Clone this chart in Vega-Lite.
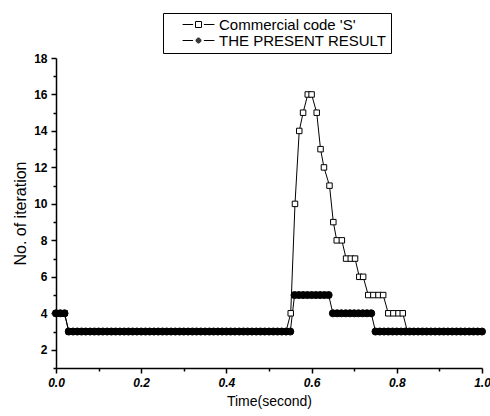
{
  "$schema": "https://vega.github.io/schema/vega-lite/v6.json",
  "width": 426,
  "height": 310,
  "autosize": {"type": "none"},
  "padding": {"left": 56, "top": 58, "right": 8, "bottom": 48},
  "background": "white",
  "config": {
    "view": {"stroke": null},
    "font": "Liberation Sans",
    "axis": {"domainColor": "black", "tickColor": "black", "labelColor": "black", "titleColor": "black", "domainWidth": 1.5, "tickWidth": 1.5, "grid": false, "titleFont": "Liberation Sans", "labelFont": "Liberation Sans", "titleFontWeight": "normal"}
  },
  "data": {"values": [
    {"s":"S","t":0,"v":4},{"s":"S","t":0.01,"v":4},{"s":"S","t":0.02,"v":4},
    {"s":"S","t":0.03,"v":3},{"s":"S","t":0.04,"v":3},{"s":"S","t":0.05,"v":3},{"s":"S","t":0.06,"v":3},{"s":"S","t":0.07,"v":3},{"s":"S","t":0.08,"v":3},{"s":"S","t":0.09,"v":3},{"s":"S","t":0.1,"v":3},
    {"s":"S","t":0.11,"v":3},{"s":"S","t":0.12,"v":3},{"s":"S","t":0.13,"v":3},{"s":"S","t":0.14,"v":3},{"s":"S","t":0.15,"v":3},{"s":"S","t":0.16,"v":3},{"s":"S","t":0.17,"v":3},{"s":"S","t":0.18,"v":3},{"s":"S","t":0.19,"v":3},{"s":"S","t":0.2,"v":3},
    {"s":"S","t":0.21,"v":3},{"s":"S","t":0.22,"v":3},{"s":"S","t":0.23,"v":3},{"s":"S","t":0.24,"v":3},{"s":"S","t":0.25,"v":3},{"s":"S","t":0.26,"v":3},{"s":"S","t":0.27,"v":3},{"s":"S","t":0.28,"v":3},{"s":"S","t":0.29,"v":3},{"s":"S","t":0.3,"v":3},
    {"s":"S","t":0.31,"v":3},{"s":"S","t":0.32,"v":3},{"s":"S","t":0.33,"v":3},{"s":"S","t":0.34,"v":3},{"s":"S","t":0.35,"v":3},{"s":"S","t":0.36,"v":3},{"s":"S","t":0.37,"v":3},{"s":"S","t":0.38,"v":3},{"s":"S","t":0.39,"v":3},{"s":"S","t":0.4,"v":3},
    {"s":"S","t":0.41,"v":3},{"s":"S","t":0.42,"v":3},{"s":"S","t":0.43,"v":3},{"s":"S","t":0.44,"v":3},{"s":"S","t":0.45,"v":3},{"s":"S","t":0.46,"v":3},{"s":"S","t":0.47,"v":3},{"s":"S","t":0.48,"v":3},{"s":"S","t":0.49,"v":3},{"s":"S","t":0.5,"v":3},
    {"s":"S","t":0.51,"v":3},{"s":"S","t":0.52,"v":3},{"s":"S","t":0.53,"v":3},{"s":"S","t":0.54,"v":3},
    {"s":"S","t":0.551,"v":4},{"s":"S","t":0.561,"v":10},{"s":"S","t":0.571,"v":14},{"s":"S","t":0.58,"v":15},{"s":"S","t":0.591,"v":16},{"s":"S","t":0.6,"v":16},{"s":"S","t":0.612,"v":15},{"s":"S","t":0.621,"v":13},{"s":"S","t":0.629,"v":12},{"s":"S","t":0.642,"v":11},
    {"s":"S","t":0.651,"v":9},{"s":"S","t":0.659,"v":8},{"s":"S","t":0.671,"v":8},{"s":"S","t":0.681,"v":7},{"s":"S","t":0.692,"v":7},{"s":"S","t":0.702,"v":7},{"s":"S","t":0.712,"v":6},{"s":"S","t":0.721,"v":6},{"s":"S","t":0.733,"v":5},{"s":"S","t":0.745,"v":5},
    {"s":"S","t":0.757,"v":5},{"s":"S","t":0.768,"v":5},{"s":"S","t":0.78,"v":4},{"s":"S","t":0.792,"v":4},{"s":"S","t":0.804,"v":4},{"s":"S","t":0.814,"v":4},
    {"s":"S","t":0.825,"v":3},{"s":"S","t":0.835,"v":3},{"s":"S","t":0.845,"v":3},{"s":"S","t":0.855,"v":3},{"s":"S","t":0.865,"v":3},{"s":"S","t":0.875,"v":3},{"s":"S","t":0.885,"v":3},{"s":"S","t":0.895,"v":3},{"s":"S","t":0.905,"v":3},
    {"s":"S","t":0.915,"v":3},{"s":"S","t":0.925,"v":3},{"s":"S","t":0.935,"v":3},{"s":"S","t":0.945,"v":3},{"s":"S","t":0.955,"v":3},{"s":"S","t":0.965,"v":3},{"s":"S","t":0.975,"v":3},{"s":"S","t":0.985,"v":3},{"s":"S","t":0.995,"v":3},
    {"s":"P","t":0,"v":4},{"s":"P","t":0.01,"v":4},{"s":"P","t":0.02,"v":4},
    {"s":"P","t":0.03,"v":3},{"s":"P","t":0.04,"v":3},{"s":"P","t":0.05,"v":3},{"s":"P","t":0.06,"v":3},{"s":"P","t":0.07,"v":3},{"s":"P","t":0.08,"v":3},{"s":"P","t":0.09,"v":3},{"s":"P","t":0.1,"v":3},
    {"s":"P","t":0.11,"v":3},{"s":"P","t":0.12,"v":3},{"s":"P","t":0.13,"v":3},{"s":"P","t":0.14,"v":3},{"s":"P","t":0.15,"v":3},{"s":"P","t":0.16,"v":3},{"s":"P","t":0.17,"v":3},{"s":"P","t":0.18,"v":3},{"s":"P","t":0.19,"v":3},{"s":"P","t":0.2,"v":3},
    {"s":"P","t":0.21,"v":3},{"s":"P","t":0.22,"v":3},{"s":"P","t":0.23,"v":3},{"s":"P","t":0.24,"v":3},{"s":"P","t":0.25,"v":3},{"s":"P","t":0.26,"v":3},{"s":"P","t":0.27,"v":3},{"s":"P","t":0.28,"v":3},{"s":"P","t":0.29,"v":3},{"s":"P","t":0.3,"v":3},
    {"s":"P","t":0.31,"v":3},{"s":"P","t":0.32,"v":3},{"s":"P","t":0.33,"v":3},{"s":"P","t":0.34,"v":3},{"s":"P","t":0.35,"v":3},{"s":"P","t":0.36,"v":3},{"s":"P","t":0.37,"v":3},{"s":"P","t":0.38,"v":3},{"s":"P","t":0.39,"v":3},{"s":"P","t":0.4,"v":3},
    {"s":"P","t":0.41,"v":3},{"s":"P","t":0.42,"v":3},{"s":"P","t":0.43,"v":3},{"s":"P","t":0.44,"v":3},{"s":"P","t":0.45,"v":3},{"s":"P","t":0.46,"v":3},{"s":"P","t":0.47,"v":3},{"s":"P","t":0.48,"v":3},{"s":"P","t":0.49,"v":3},{"s":"P","t":0.5,"v":3},
    {"s":"P","t":0.51,"v":3},{"s":"P","t":0.52,"v":3},{"s":"P","t":0.53,"v":3},{"s":"P","t":0.54,"v":3},{"s":"P","t":0.55,"v":3},
    {"s":"P","t":0.56,"v":5},{"s":"P","t":0.57,"v":5},{"s":"P","t":0.58,"v":5},{"s":"P","t":0.59,"v":5},{"s":"P","t":0.6,"v":5},{"s":"P","t":0.61,"v":5},{"s":"P","t":0.62,"v":5},{"s":"P","t":0.63,"v":5},{"s":"P","t":0.64,"v":5},
    {"s":"P","t":0.65,"v":4},{"s":"P","t":0.66,"v":4},{"s":"P","t":0.67,"v":4},{"s":"P","t":0.68,"v":4},{"s":"P","t":0.69,"v":4},{"s":"P","t":0.7,"v":4},{"s":"P","t":0.71,"v":4},{"s":"P","t":0.72,"v":4},{"s":"P","t":0.73,"v":4},{"s":"P","t":0.74,"v":4},
    {"s":"P","t":0.75,"v":3},{"s":"P","t":0.76,"v":3},{"s":"P","t":0.77,"v":3},{"s":"P","t":0.78,"v":3},{"s":"P","t":0.79,"v":3},{"s":"P","t":0.8,"v":3},{"s":"P","t":0.81,"v":3},{"s":"P","t":0.82,"v":3},{"s":"P","t":0.83,"v":3},{"s":"P","t":0.84,"v":3},
    {"s":"P","t":0.85,"v":3},{"s":"P","t":0.86,"v":3},{"s":"P","t":0.87,"v":3},{"s":"P","t":0.88,"v":3},{"s":"P","t":0.89,"v":3},{"s":"P","t":0.9,"v":3},{"s":"P","t":0.91,"v":3},{"s":"P","t":0.92,"v":3},{"s":"P","t":0.93,"v":3},{"s":"P","t":0.94,"v":3},
    {"s":"P","t":0.95,"v":3},{"s":"P","t":0.96,"v":3},{"s":"P","t":0.97,"v":3},{"s":"P","t":0.98,"v":3},{"s":"P","t":0.99,"v":3},{"s":"P","t":1.0,"v":3}
  ]},
  "encoding": {
    "x": {"field": "t", "type": "quantitative", "scale": {"domain": [0, 1], "nice": false, "zero": false},
      "axis": {"title": "Time(second)", "values": [0,0.1,0.2,0.3,0.4,0.5,0.6,0.7,0.8,0.9,1.0],
        "labelExpr": "round(datum.value*10) % 2 == 1 ? '' : format(datum.value, '.1f')",
        "labelFontSize": 12, "labelFontWeight": "bold", "labelFontStyle": "italic", "labelPadding": 4,
        "tickSize": {"condition": {"test": "round(datum.value*10) % 2 == 1", "value": 3}, "value": 5},
        "titleFontSize": 14, "titlePadding": 6, "labelFlush": false}},
    "y": {"field": "v", "type": "quantitative", "scale": {"domain": [1, 18], "nice": false, "zero": false},
      "axis": {"title": "No. of iteration", "values": [1,2,3,4,5,6,7,8,9,10,11,12,13,14,15,16,17,18],
        "labelExpr": "datum.value % 2 == 1 ? '' : datum.label",
        "labelFontSize": 12, "labelFontWeight": "bold", "labelPadding": 4,
        "tickSize": {"condition": {"test": "datum.value % 2 == 1", "value": 3}, "value": 5},
        "titleFontSize": 16, "titlePadding": 5, "labelFlush": false}}
  },
  "layer": [
    {
      "mark": {"type": "line", "color": "black", "strokeWidth": 1},
      "encoding": {"detail": {"field": "s"}}
    },
    {
      "transform": [{"filter": "datum.s == 'S'"}],
      "mark": {"type": "point", "shape": "square", "filled": true, "fill": "white", "stroke": "black", "strokeWidth": 1, "opacity": 1, "size": 30}
    },
    {
      "transform": [{"filter": "datum.s == 'P'"}],
      "mark": {"type": "point", "shape": "circle", "filled": true, "fill": "black", "stroke": "black", "strokeWidth": 1, "opacity": 1, "size": 50}
    },
    {
      "transform": [{"filter": "datum.t > 5"}],
      "mark": {"type": "point", "filled": false, "strokeWidth": 1, "opacity": 1, "size": 36},
      "encoding": {
        "shape": {"field": "s", "type": "nominal",
          "scale": {"domain": ["S", "P"], "range": ["M-5.3,0H-1.8M1.8,0H5.3M-1,-1H1V1H-1Z", "M-5.3,0H-1.8M1.8,0H5.3M-0.8,0A0.8,0.8,0,1,0,0.8,0A0.8,0.8,0,1,0,-0.8,0ZM-0.55,0A0.55,0.55,0,1,0,0.55,0A0.55,0.55,0,1,0,-0.55,0ZM-0.3,0A0.3,0.3,0,1,0,0.3,0A0.3,0.3,0,1,0,-0.3,0ZM-0.08,0A0.08,0.08,0,1,0,0.08,0A0.08,0.08,0,1,0,-0.08,0Z"]},
          "legend": {
            "orient": "none", "legendX": 107, "legendY": -45, "title": null,
            "strokeColor": "black", "padding": 4, "rowPadding": 0,
            "labelFont": "Liberation Sans", "labelFontSize": 15, "labelColor": "black", "labelLimit": 400,
            "labelExpr": "datum.value == 'S' ? \"Commercial code 'S'\" : 'THE PRESENT RESULT'",
            "symbolSize": 36, "symbolOffset": 24, "labelOffset": 13, "symbolStrokeWidth": 1, "symbolOpacity": 1
          }},
        "stroke": {"field": "s", "type": "nominal",
          "scale": {"domain": ["S", "P"], "range": ["black", "black"]},
          "legend": {
            "orient": "none", "legendX": 107, "legendY": -45, "title": null,
            "strokeColor": "black", "padding": 4, "rowPadding": 0,
            "labelFont": "Liberation Sans", "labelFontSize": 15, "labelColor": "black", "labelLimit": 400,
            "labelExpr": "datum.value == 'S' ? \"Commercial code 'S'\" : 'THE PRESENT RESULT'",
            "symbolSize": 36, "symbolOffset": 24, "labelOffset": 13, "symbolStrokeWidth": 1, "symbolOpacity": 1
          }}
      }
    }
  ]
}
